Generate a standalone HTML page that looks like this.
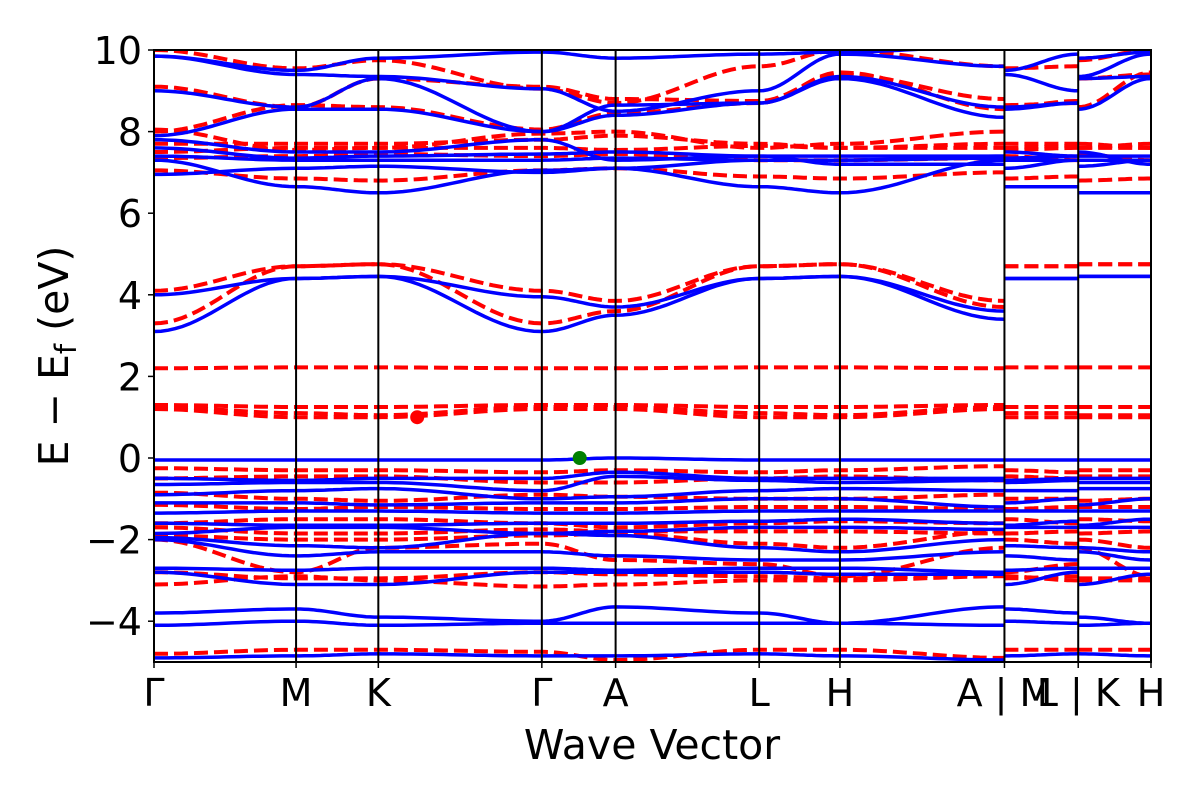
<!DOCTYPE html>
<html><head><meta charset="utf-8"><style>
body{margin:0;background:#fff;}
svg text{font-family:"DejaVu Sans","Liberation Sans",sans-serif;fill:#000;}
</style></head><body>
<svg id="chart" width="1200" height="800" xmlns="http://www.w3.org/2000/svg" style="position:absolute;left:0;top:0">
<defs><clipPath id="clip"><rect x="154" y="50" width="997" height="612"/></clipPath></defs>
<g id="bands" clip-path="url(#clip)"></g>
<g id="axes"></g>
<text x="652" y="759" text-anchor="middle" font-size="41">Wave Vector</text>
<text transform="translate(68,356) rotate(-90)" text-anchor="middle" font-size="41">E − E<tspan font-size="29" dy="8">f</tspan><tspan dy="-8"> (eV)</tspan></text>
</svg>
<script>
// k coordinates of high-symmetry points (path: Γ M K Γ A L H A | M L | K H)
const nodeK = [0, 1.425, 2.25, 3.89, 4.63, 6.07, 6.88, 8.53];
const seg2K = [8.53, 9.27];
const seg3K = [9.27, 10.0];
const tickK = [0, 1.425, 2.25, 3.89, 4.63, 6.07, 6.88, 8.53, 9.27, 10.0];
const tickLabels = ["Γ","M","K","Γ","A","L","H","A | M","L | K","H"];
const yTicks = [10, 8, 6, 4, 2, 0, -2, -4];
const yTickLabels = ["10","8","6","4","2","0","−2","−4"];
// energies at Γ,M,K,Γ,A,L,H,A
const blueBands = [
 [3.1,4.4,4.45,3.1,3.5,4.4,4.45,3.4],
 [4.0,4.4,4.45,3.95,3.7,4.4,4.45,3.6],
 [6.95,7.1,7.15,7.0,7.1,7.3,7.3,7.4],
 [7.3,6.65,6.5,7.05,7.1,6.65,6.5,7.3],
 [7.4,7.3,7.3,7.3,7.35,7.3,7.3,7.35],
 [7.6,7.35,7.4,7.45,7.5,7.4,7.4,7.4],
 [7.8,7.5,7.5,7.8,7.3,7.4,7.2,7.2],
 [7.9,8.55,8.55,8.0,8.4,8.7,9.3,8.35],
 [9.0,8.6,9.3,8.0,8.65,8.7,9.35,8.6],
 [9.85,9.4,9.35,9.05,8.5,9.0,9.9,9.6],
 [9.85,9.5,9.8,9.95,9.8,9.9,9.95,10.1],
 [-0.05,-0.05,-0.05,-0.05,0.0,-0.05,-0.05,-0.05],
 [-0.5,-0.55,-0.5,-0.5,-0.35,-0.5,-0.5,-0.5],
 [-0.65,-0.6,-0.6,-0.8,-0.45,-0.55,-0.6,-0.55],
 [-0.9,-0.8,-0.75,-1.0,-0.95,-0.8,-0.75,-0.8],
 [-1.1,-1.1,-1.15,-1.1,-1.1,-1.0,-1.0,-1.2],
 [-1.35,-1.3,-1.3,-1.35,-1.35,-1.3,-1.3,-1.3],
 [-1.6,-1.65,-1.65,-1.6,-1.6,-1.55,-1.5,-1.6],
 [-1.85,-1.7,-1.7,-1.85,-1.8,-1.7,-1.7,-1.75],
 [-1.95,-2.15,-2.2,-1.85,-1.9,-2.2,-2.3,-2.0],
 [-2.0,-2.4,-2.3,-2.3,-2.4,-2.5,-2.5,-2.3],
 [-2.7,-2.75,-2.7,-2.7,-2.75,-2.7,-2.7,-2.8],
 [-2.8,-3.1,-3.1,-2.8,-2.8,-2.8,-2.85,-2.85],
 [-3.8,-3.7,-3.9,-4.0,-3.65,-3.8,-4.05,-3.65],
 [-4.1,-4.0,-4.1,-4.05,-4.05,-4.05,-4.05,-4.1],
 [-4.9,-4.85,-4.8,-4.85,-4.85,-4.8,-4.85,-4.95]
];
const redBands = [
 [3.3,4.7,4.75,3.3,3.6,4.7,4.75,3.7],
 [4.1,4.7,4.75,4.1,3.85,4.7,4.75,3.85],
 [2.2,2.22,2.22,2.2,2.2,2.22,2.22,2.2],
 [1.3,1.25,1.25,1.3,1.3,1.25,1.25,1.3],
 [1.25,1.1,1.05,1.25,1.25,1.1,1.05,1.25],
 [1.2,1.0,1.0,1.2,1.2,1.0,1.0,1.2],
 [7.05,6.85,6.8,7.05,7.1,6.9,6.85,7.0],
 [7.35,7.4,7.45,7.4,7.45,7.3,7.3,7.35],
 [7.5,7.6,7.6,7.6,7.55,7.65,7.6,7.7],
 [7.7,7.7,7.7,7.8,7.9,7.7,7.6,7.6],
 [8.05,7.55,7.6,7.95,8.0,7.6,7.7,8.0],
 [8.0,8.65,8.6,8.05,8.45,8.7,9.45,8.55],
 [9.1,8.6,9.3,9.1,8.8,8.75,9.4,8.8],
 [10.0,9.55,9.75,9.05,8.7,9.6,10.0,9.6],
 [-0.25,-0.3,-0.3,-0.35,-0.3,-0.35,-0.3,-0.2],
 [-0.5,-0.45,-0.45,-0.6,-0.6,-0.5,-0.45,-0.55],
 [-0.85,-1.0,-1.05,-0.9,-0.95,-1.0,-1.0,-0.9],
 [-1.15,-1.25,-1.2,-1.25,-1.25,-1.2,-1.2,-1.25],
 [-1.6,-1.5,-1.5,-1.6,-1.7,-1.6,-1.55,-1.6],
 [-1.7,-1.85,-1.85,-1.75,-1.8,-1.8,-1.8,-1.85],
 [-1.9,-2.0,-2.0,-1.9,-1.85,-2.1,-2.2,-1.8],
 [-2.0,-2.8,-2.2,-2.1,-2.5,-2.6,-2.9,-2.2],
 [-2.8,-2.95,-2.95,-2.8,-2.85,-2.9,-2.95,-2.85],
 [-3.1,-2.9,-3.0,-3.15,-3.1,-3.0,-3.0,-2.9],
 [-4.8,-4.7,-4.7,-4.75,-4.95,-4.7,-4.7,-4.9]
];
const redMarker = [2.64, 1.0];
const greenMarker = [4.27, 0.0];

const X0=154, X1=1151, Y0=50, Y1=662, KMAX=10, EMIN=-5, EMAX=10;
const xS = k => X0 + (k / KMAX) * (X1 - X0);
const yS = e => Y0 + (EMAX - e) / (EMAX - EMIN) * (Y1 - Y0);
const NS = "http://www.w3.org/2000/svg";
const bandsG = document.getElementById('bands');
const axesG = document.getElementById('axes');

function segPath(ks, es){
  let d = "";
  for(let i=0;i<ks.length-1;i++){
    const n=20;
    for(let j=0;j<=n;j++){
      if(i>0 && j===0) continue;
      const t=j/n, w=(1-Math.cos(Math.PI*t))/2;
      const k=ks[i]+(ks[i+1]-ks[i])*t, e=es[i]+(es[i+1]-es[i])*w;
      d += (d===""?"M":"L") + xS(k).toFixed(1) + "," + yS(e).toFixed(1);
    }
  }
  return d;
}
function drawBands(bands, color, dashed, name){
  bands.forEach((b,i)=>{
    const parts=[segPath(nodeK,b), segPath(seg2K,[b[1],b[5]]), segPath(seg3K,[b[2],b[6]])];
    parts.forEach(d=>{
      const p=document.createElementNS(NS,'path');
      p.setAttribute('d',d);
      p.setAttribute('fill','none');
      p.setAttribute('stroke',color);
      p.setAttribute('stroke-width',dashed?4:3.5);
      if(dashed) p.setAttribute('stroke-dasharray','14,6');
      
      
      bandsG.appendChild(p);
    });
  });
}
drawBands(redBands,'#ff0000',true,'spin-down-band');
drawBands(blueBands,'#0000ff',false,'spin-up-band');

[[redMarker,'#ff0000','cbm-marker'],[greenMarker,'#008000','vbm-marker']].forEach(([m,c,n])=>{
  const ci=document.createElementNS(NS,'circle');
  ci.setAttribute('cx',xS(m[0])); ci.setAttribute('cy',yS(m[1])); ci.setAttribute('r',7);
  ci.setAttribute('fill',c);
  
  
  bandsG.appendChild(ci);
});

tickK.forEach((k,i)=>{
  if(i===0||i===tickK.length-1) return;
  const l=document.createElementNS(NS,'line');
  l.setAttribute('x1',xS(k)); l.setAttribute('x2',xS(k));
  l.setAttribute('y1',Y0); l.setAttribute('y2',Y1);
  l.setAttribute('stroke','#000'); l.setAttribute('stroke-width',2);
  
  
  axesG.appendChild(l);
});
const fr=document.createElementNS(NS,'rect');
fr.setAttribute('x',X0); fr.setAttribute('y',Y0); fr.setAttribute('width',X1-X0); fr.setAttribute('height',Y1-Y0);
fr.setAttribute('fill','none'); fr.setAttribute('stroke','#000'); fr.setAttribute('stroke-width',2);


axesG.appendChild(fr);
yTicks.forEach((v,i)=>{
  const t=document.createElementNS(NS,'line');
  t.setAttribute('x1',X0-6); t.setAttribute('x2',X0); t.setAttribute('y1',yS(v)); t.setAttribute('y2',yS(v));
  t.setAttribute('stroke','#000'); t.setAttribute('stroke-width',1.5);
  
  
  axesG.appendChild(t);
  const tx=document.createElementNS(NS,'text');
  tx.setAttribute('x',X0-12); tx.setAttribute('y',yS(v)+14); tx.setAttribute('text-anchor','end');
  tx.setAttribute('font-size','38');
  tx.textContent=yTickLabels[i];
  
  
  axesG.appendChild(tx);
});
tickK.forEach((k,i)=>{
  const t=document.createElementNS(NS,'line');
  t.setAttribute('x1',xS(k)); t.setAttribute('x2',xS(k)); t.setAttribute('y1',Y1); t.setAttribute('y2',Y1+6);
  t.setAttribute('stroke','#000'); t.setAttribute('stroke-width',1.5);
  
  
  axesG.appendChild(t);
  const tx=document.createElementNS(NS,'text');
  tx.setAttribute('x',xS(k)); tx.setAttribute('y',706); tx.setAttribute('text-anchor','middle');
  tx.setAttribute('font-size','38');
  tx.textContent=tickLabels[i];
  
  
  axesG.appendChild(tx);
});
</script>
</body></html>
